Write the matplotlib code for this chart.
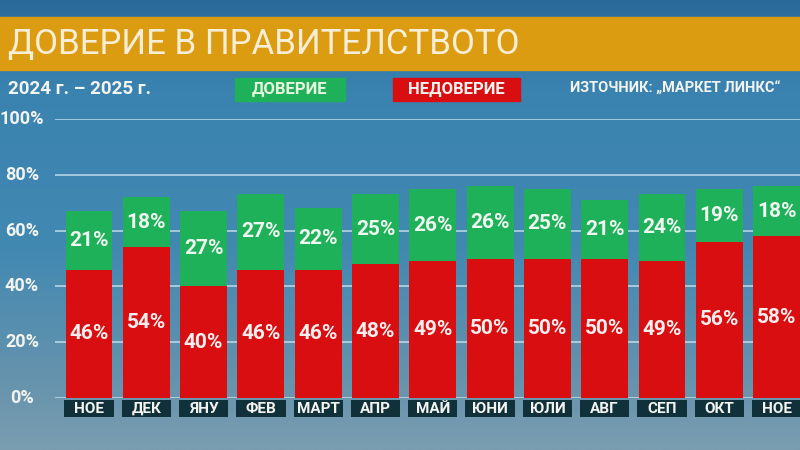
import numpy as np
import matplotlib
matplotlib.use("Agg")
import matplotlib.pyplot as plt
from matplotlib.colors import LinearSegmentedColormap
from matplotlib.transforms import blended_transform_factory
from matplotlib.patches import Rectangle

# ---------------- data ----------------
months = ["НОЕ", "ДЕК", "ЯНУ", "ФЕВ", "МАРТ", "АПР", "МАЙ", "ЮНИ", "ЮЛИ", "АВГ", "СЕП", "ОКТ", "НОЕ"]
distrust = [46, 54, 40, 46, 46, 48, 49, 50, 50, 50, 49, 56, 58]
trust = [21, 18, 27, 27, 22, 25, 26, 26, 25, 21, 24, 19, 18]
yticks = [0, 20, 40, 60, 80, 100]
title = "ДОВЕРИЕ В ПРАВИТЕЛСТВОТО"
period = "2024 г. – 2025 г."
legend_trust = "ДОВЕРИЕ"
legend_distrust = "НЕДОВЕРИЕ"
source = "ИЗТОЧНИК: „МАРКЕТ ЛИНКС“"

GREEN = "#1fb15a"
RED = "#d80e10"
DARK = "#10303a"
TXT = "#f3f3f0"

plt.rcParams["font.family"] = ["Roboto", "DejaVu Sans"]

W, H = 800, 450
fig = plt.figure(figsize=(8, 4.5), dpi=100)

# background gradient
bg = fig.add_axes([0, 0, 1, 1], zorder=-10)
bg.set_axis_off()
cmap = LinearSegmentedColormap.from_list(
    "bg", [(0.0, "#2a6a9a"), (0.2, "#3a83b0"), (0.55, "#4289b2"), (0.85, "#6693ad"), (1.0, "#7a9db0")])
grad = np.linspace(0, 1, 256).reshape(-1, 1)
bg.imshow(grad, aspect="auto", cmap=cmap, extent=[0, 1, 1, 0])
bg.set_xlim(0, 1); bg.set_ylim(1, 0)

# banner
fig.patches.append(Rectangle((0, 1 - 70 / H), 1, 53 / H, transform=fig.transFigure,
                             color="#dc9c12", zorder=-5))
fig.text(8 / W, 1 - 44 / H, title, fontsize=25, color="#f6eed6", va="center", ha="left")

# second row
rowy = 1 - 89 / H
fig.text(8 / W, rowy, period, fontsize=13.5, fontweight="bold", color=TXT, va="center", ha="left")
fig.patches.append(Rectangle((235 / W, 1 - 101 / H), 110 / W, 23 / H, transform=fig.transFigure,
                             color=GREEN, zorder=-5))
fig.text(290 / W, rowy, legend_trust, fontsize=12, fontweight="bold", color="#e6f6df", va="center", ha="center")
fig.patches.append(Rectangle((393 / W, 1 - 101 / H), 127 / W, 23 / H, transform=fig.transFigure,
                             color=RED, zorder=-5))
fig.text(456 / W, rowy, legend_distrust, fontsize=12, fontweight="bold", color=TXT, va="center", ha="center")
fig.text(570 / W, rowy, source, fontsize=10.5, fontweight="bold", color=TXT, va="center", ha="left")

# main axes
y0, y100 = 398, 119
x_left, x_right = 55, 800
ax = fig.add_axes([x_left / W, 1 - y0 / H, (x_right - x_left) / W, (y0 - y100) / H])
ax.patch.set_alpha(0)
for s in ax.spines.values():
    s.set_visible(False)
step = 57.3
c0 = 89
ax.set_xlim((x_left - c0) / step, (x_right - c0) / step)
ax.set_ylim(0, 100)
ax.set_xticks([])
ax.set_yticks([])

for t in yticks:
    ax.axhline(t, color="#cfe6f2", lw=1.3, alpha=0.75, zorder=1)
    ax.text(22 / W, t, f"{t}%", transform=blended_transform_factory(fig.transFigure, ax.transData),
            ha="center", va="center", fontsize=13, fontweight="bold", color=TXT)

x = np.arange(len(months))
bw = 0.82
ax.bar(x, distrust, width=bw, color=RED, zorder=3)
ax.bar(x, trust, bottom=distrust, width=bw, color=GREEN, zorder=3)
ax.bar(x, [6.2] * len(months), bottom=-6.9, width=bw + 0.04, color=DARK, zorder=3, clip_on=False)

for i in range(len(months)):
    ax.text(x[i], distrust[i] / 2, f"{distrust[i]}%", ha="center", va="center",
            fontsize=15, fontweight="bold", color="#f8eeee", zorder=4)
    ax.text(x[i], distrust[i] + trust[i] / 2, f"{trust[i]}%", ha="center", va="center",
            fontsize=15, fontweight="bold", color="#eef8f0", zorder=4)
    ax.text(x[i], -3.8, months[i], ha="center", va="center", fontsize=11,
            fontweight="bold", color=TXT, zorder=4, clip_on=False)

fig.savefig("out.png", dpi=100)
